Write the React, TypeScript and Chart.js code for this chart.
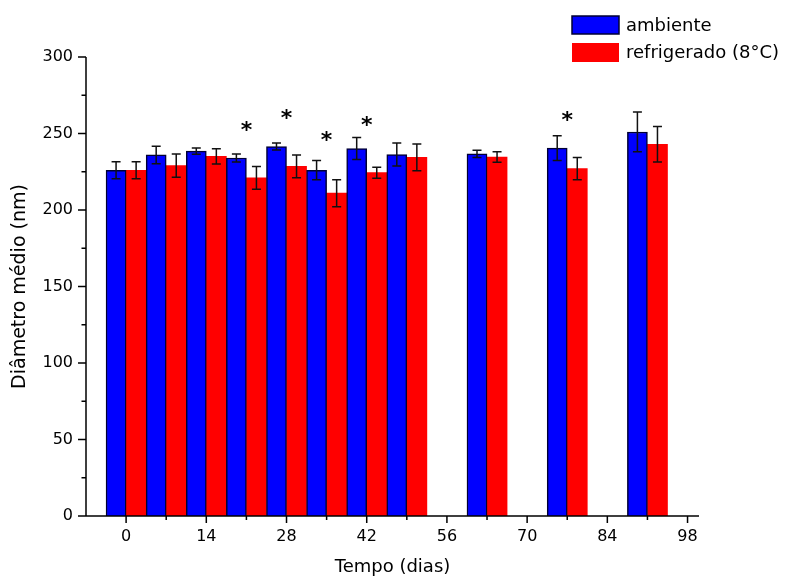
import React, { useEffect, useRef } from 'react';
import { Chart, registerables } from 'chart.js';

Chart.register(...registerables);

const days = [0, 7, 14, 21, 28, 35, 42, 49, 63, 77, 91];
const ambiente = [226, 236, 238.5, 234, 241.5, 226, 240.2, 236.3, 236.7, 240.4, 251];
const ambienteErr = [5.5, 5.7, 2, 2.6, 2.3, 6.3, 7.2, 7.5, 2.4, 8.1, 13];
const refrigerado = [226, 229, 235, 221, 228.5, 211, 224.4, 234.4, 234.6, 227, 243];
const refrigeradoErr = [5.5, 7.6, 5, 7.4, 7.5, 8.8, 3.6, 8.8, 3.4, 7.3, 11.6];
const starDays = [21, 28, 35, 42, 77];
const starValues = [256, 263.5, 249, 259, 262];
const xMajorTicks = [0, 14, 28, 42, 56, 70, 84, 98];
const xMinorTicks = [7, 21, 35, 49, 63, 77, 91];
const yMajorTicks = [0, 50, 100, 150, 200, 250, 300];
const yMinorTicks = [25, 75, 125, 175, 225, 275];
const seriesNames = ['ambiente', 'refrigerado (8°C)'];
const xTitle = 'Tempo (dias)';
const yTitle = 'Diâmetro médio (nm)';

const FONT = '"DejaVu Sans", "Liberation Sans", Arial, sans-serif';

const overlay = {
  id: 'overlay',
  afterDatasetsDraw(chart: any) {
    const ctx = chart.ctx;
    const xs = chart.scales.x;
    const ys = chart.scales.y;
    ctx.save();
    // error bars
    [ambienteErr, refrigeradoErr].forEach((errs, di) => {
      const vals = di === 0 ? ambiente : refrigerado;
      const meta = chart.getDatasetMeta(di);
      meta.data.forEach((bar: any, i: number) => {
        const cx = bar.x;
        const top = ys.getPixelForValue(vals[i] + errs[i]);
        const bot = ys.getPixelForValue(vals[i] - errs[i]);
        ctx.strokeStyle = '#111';
        ctx.lineWidth = 1.5;
        ctx.beginPath();
        ctx.moveTo(cx, top);
        ctx.lineTo(cx, bot);
        ctx.moveTo(cx - 4.5, top);
        ctx.lineTo(cx + 4.5, top);
        ctx.moveTo(cx - 4.5, bot);
        ctx.lineTo(cx + 4.5, bot);
        ctx.stroke();
      });
    });
    // significance stars
    const fs = 22;
    ctx.fillStyle = '#000';
    ctx.font = `bold ${fs}px ${FONT}`;
    ctx.textAlign = 'center';
    ctx.textBaseline = 'alphabetic';
    starDays.forEach((d, i) => {
      ctx.fillText('*', xs.getPixelForValue(d), ys.getPixelForValue(starValues[i]) + 0.56 * fs);
    });
    ctx.restore();
  },
  afterDraw(chart: any) {
    const ctx = chart.ctx;
    const xs = chart.scales.x;
    const ys = chart.scales.y;
    const area = chart.chartArea;
    ctx.save();
    ctx.strokeStyle = '#000';
    ctx.lineWidth = 1.5;
    ctx.beginPath();
    // axis lines
    ctx.moveTo(area.left, area.top);
    ctx.lineTo(area.left, area.bottom);
    ctx.lineTo(area.right, area.bottom);
    yMajorTicks.forEach((v) => {
      const py = ys.getPixelForValue(v);
      ctx.moveTo(area.left, py);
      ctx.lineTo(area.left - 8, py);
    });
    yMinorTicks.forEach((v) => {
      const py = ys.getPixelForValue(v);
      ctx.moveTo(area.left, py);
      ctx.lineTo(area.left - 4.5, py);
    });
    xMajorTicks.forEach((v) => {
      const px = xs.getPixelForValue(v);
      ctx.moveTo(px, area.bottom);
      ctx.lineTo(px, area.bottom + 7);
    });
    xMinorTicks.forEach((v) => {
      const px = xs.getPixelForValue(v);
      ctx.moveTo(px, area.bottom);
      ctx.lineTo(px, area.bottom + 4);
    });
    ctx.stroke();

    // legend
    const colors = ['#0000FF', '#FF0000'];
    const boxes = [
      { x: 572, y: 16, w: 47, h: 18 },
      { x: 572, y: 43, w: 47, h: 19 },
    ];
    ctx.font = `18px ${FONT}`;
    ctx.textAlign = 'left';
    ctx.textBaseline = 'middle';
    seriesNames.forEach((name, i) => {
      const b = boxes[i];
      ctx.fillStyle = colors[i];
      ctx.fillRect(b.x, b.y, b.w, b.h);
      if (i === 0) {
        ctx.strokeStyle = '#000033';
        ctx.lineWidth = 1.5;
        ctx.strokeRect(b.x, b.y, b.w, b.h);
      }
      ctx.fillStyle = '#000';
      ctx.fillText(name, b.x + 54, b.y + b.h / 2 + 1);
    });
    ctx.restore();
  },
};

export default function App() {
  const ref = useRef<HTMLCanvasElement | null>(null);
  useEffect(() => {
    if (!ref.current) return;
    const chart = new Chart(ref.current, {
      type: 'bar',
      data: {
        datasets: [
          {
            label: seriesNames[0],
            data: days.map((d, i) => ({ x: d, y: ambiente[i] })),
            backgroundColor: '#0000FF',
            borderColor: '#000033',
            borderWidth: 1.5,
            borderSkipped: 'bottom',
          },
          {
            label: seriesNames[1],
            data: days.map((d, i) => ({ x: d, y: refrigerado[i] })),
            backgroundColor: '#FF0000',
            borderColor: '#FF0000',
            borderWidth: 0,
          },
        ],
      },
      options: {
        animation: false,
        responsive: false,
        maintainAspectRatio: false,
        datasets: { bar: { categoryPercentage: 1, barPercentage: 1, grouped: true } },
        layout: { padding: { top: 57, right: 88, left: 0, bottom: 0 } },
        plugins: { legend: { display: false }, tooltip: { enabled: false } },
        scales: {
          x: {
            type: 'linear',
            min: -7,
            max: 100,
            offset: false,
            grid: { display: false, drawTicks: true, tickLength: 7, offset: false },
            border: { display: false },
            afterBuildTicks: (s: any) => {
              s.ticks = xMajorTicks.map((v) => ({ value: v }));
            },
            afterFit: (s: any) => {
              s.height = 63;
            },
            ticks: {
              autoSkip: false,
              maxRotation: 0,
              padding: 4,
              color: '#000',
              font: { family: FONT, size: 16 },
              callback: (v: any) => String(v),
            },
            title: {
              display: true,
              text: xTitle,
              color: '#000',
              font: { family: FONT, size: 18, lineHeight: 1.2 },
              padding: { top: 0, bottom: 1 },
            },
          },
          y: {
            type: 'linear',
            min: 0,
            max: 300,
            grid: { display: false, drawTicks: true, tickLength: 8 },
            border: { display: false },
            afterBuildTicks: (s: any) => {
              s.ticks = yMajorTicks.map((v) => ({ value: v }));
            },
            afterFit: (s: any) => {
              s.width = 86;
            },
            ticks: {
              padding: 5,
              color: '#000',
              font: { family: FONT, size: 16 },
              callback: (v: any) => String(v),
            },
            title: {
              display: true,
              text: yTitle,
              color: '#000',
              font: { family: FONT, size: 19, lineHeight: 1.2 },
              padding: { top: 9, bottom: 0 },
            },
          },
        },
      },
      plugins: [overlay],
    } as any);
    return () => chart.destroy();
  }, []);
  return (
    <div style={{ position: 'absolute', left: 0, top: 0, width: 787, height: 579, background: '#fff' }}>
      <canvas ref={ref} width={787} height={579} style={{ display: 'block' }} />
    </div>
  );
}
